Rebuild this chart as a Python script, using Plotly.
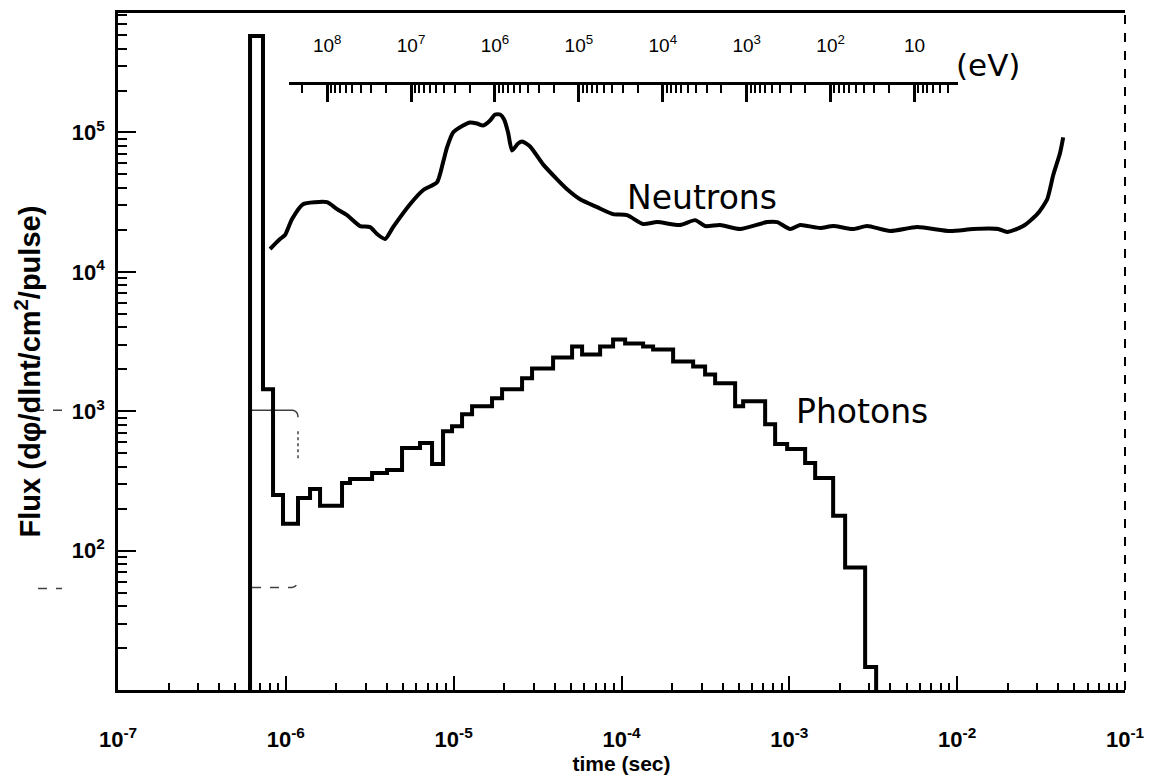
import numpy as np
import plotly.graph_objects as go

# ---------------- data ----------------
# Photon histogram: bin edges (s) and flux per bin
photon_edges = [6.12e-7, 7.31e-7, 8.39e-7, 9.62e-7, 1.182e-6, 1.394e-6, 1.599e-6,
                2.162e-6, 2.413e-6, 3.265e-6, 4.01e-6, 4.925e-6, 6.305e-6, 7.435e-6,
                8.645e-6, 9.78e-6, 1.122e-5, 1.287e-5, 1.693e-5, 1.943e-5, 2.556e-5,
                2.932e-5, 3.912e-5, 5.077e-5, 5.824e-5, 7.457e-5, 8.91e-5, 1.051e-4,
                1.345e-4, 1.543e-4, 2.03e-4, 2.672e-4, 3.148e-4, 3.613e-4, 4.753e-4,
                5.305e-4, 7.175e-4, 8.229e-4, 9.703e-4, 1.242e-3, 1.425e-3, 1.824e-3,
                2.15e-3, 2.829e-3, 3.29e-3]
photon_flux = [4.93e5, 1436, 251, 156, 239, 277, 210, 306, 327, 361, 379, 544, 591,
               418, 720, 782, 952, 1086, 1239, 1436, 1722, 2029, 2432, 2913, 2553,
               2913, 3268, 3060, 2913, 2773, 2276, 2096, 1838, 1585, 1086, 1178, 807,
               581, 535, 425, 332, 178, 75.6, 14.6]
photon_floor = 1.0  # histogram starts/ends at zero (below the axis)

# Neutron curve
neutron_time = [8.05e-7, 9.23e-7, 9.89e-7, 1.089e-6, 1.266e-6, 1.493e-6, 1.760e-6,
                2.018e-6, 2.316e-6, 2.768e-6, 3.176e-6, 3.497e-6, 3.903e-6, 4.355e-6,
                5.497e-6, 6.57e-6, 7.96e-6, 8.645e-6, 9.13e-6, 9.92e-6, 1.138e-5,
                1.252e-5, 1.378e-5, 1.497e-5, 1.648e-5, 1.765e-5, 1.890e-5, 1.998e-5,
                2.110e-5, 2.228e-5, 2.419e-5, 2.556e-5, 2.852e-5, 3.410e-5, 4.132e-5,
                4.741e-5, 5.665e-5, 7.155e-5, 8.91e-5, 1.080e-4, 1.345e-4, 1.630e-4,
                2.235e-4, 2.746e-4, 3.148e-4, 3.870e-4, 5.09e-4, 7.375e-4, 8.46e-4,
                1.011e-3, 1.160e-3, 1.527e-3, 1.824e-3, 2.400e-3, 2.908e-3, 3.988e-3,
                5.775e-3, 9.08e-3, 1.245e-2, 1.755e-2, 1.986e-2, 2.473e-2, 2.998e-2,
                3.439e-2, 3.733e-2, 4.110e-2, 4.283e-2]
neutron_flux = [14590, 17220, 18380, 23920, 30590, 31620, 31620, 28180, 25530, 21320,
                20960, 18680, 17220, 20960, 30590, 38540, 43940, 61050, 78130, 1.0e5,
                1.122e5, 1.179e5, 1.159e5, 1.122e5, 1.219e5, 1.345e5, 1.345e5, 1.239e5,
                1.0e5, 74300, 83380, 86290, 79430, 59060, 46130, 39170, 33200, 29130,
                25940, 25530, 22030, 22760, 21670, 23510, 21320, 21670, 20290, 22760,
                22760, 20290, 21670, 20620, 21320, 20290, 21320, 19630, 20960, 19630,
                20290, 20290, 19310, 21320, 25940, 33200, 49320, 71970, 92100]

# Axes
time_range = [1e-7, 1e-1]
flux_range = [10, 7.2e5]
time_ticks = [1e-7, 1e-6, 1e-5, 1e-4, 1e-3, 1e-2, 1e-1]
time_ticktext = ["10<sup>-7</sup>", "10<sup>-6</sup>", "10<sup>-5</sup>", "10<sup>-4</sup>",
                 "10<sup>-3</sup>", "10<sup>-2</sup>", "10<sup>-1</sup>"]
flux_ticks = [1e2, 1e3, 1e4, 1e5]
flux_ticktext = ["10<sup>2</sup>", "10<sup>3</sup>", "10<sup>4</sup>", "10<sup>5</sup>"]
energy_range_ev = [2.85e8, 3.03]   # neutron energy at the two ends of the top scale
energy_ticks = [1e8, 1e7, 1e6, 1e5, 1e4, 1e3, 1e2, 1e1]
energy_ticktext = ["10<sup>8</sup>", "10<sup>7</sup>", "10<sup>6</sup>", "10<sup>5</sup>",
                   "10<sup>4</sup>", "10<sup>3</sup>", "10<sup>2</sup>", "10"]

# ---------------- figure ----------------
def minor_log(lo_exp, hi_exp):
    return [k * 10.0 ** n for n in range(lo_exp, hi_exp) for k in range(2, 10)]

ph_x = [photon_edges[0]] + list(photon_edges)
ph_y = [photon_floor] + list(photon_flux) + [photon_floor]

fig = go.Figure()
# carrier for the energy scale (drawn first, invisible)
fig.add_trace(go.Scatter(x=energy_range_ev, y=[1e3, 1e3], xaxis="x2", yaxis="y", mode="markers",
                         marker=dict(opacity=0), hoverinfo="skip", showlegend=False))
fig.add_trace(go.Scatter(x=ph_x, y=ph_y, mode="lines", line=dict(color="black", width=4, shape="hv"),
                         hoverinfo="skip", showlegend=False))
fig.add_trace(go.Scatter(x=neutron_time, y=neutron_flux, mode="lines",
                         line=dict(color="black", width=4, shape="spline", smoothing=0.6),
                         hoverinfo="skip", showlegend=False))

font_family = "Liberation Sans, Arial, sans-serif"
bold = dict(family=font_family, size=22, color="black", weight="bold")

L, R, T, B = 118, 45, 10, 90
W, H = 1170, 780
pw, ph = W - L - R, H - T - B
x2_left, x2_right, x2_y = 289, 958, 80


def px(x):
    return (x - L) / pw


def py(y):
    return (H - B - y) / ph


fig.update_layout(
    width=W, height=H, margin=dict(l=L, r=R, t=T, b=B),
    paper_bgcolor="white", plot_bgcolor="rgba(0,0,0,0)",
    xaxis=dict(type="log", range=[np.log10(time_range[0]), np.log10(time_range[1])],
               tickvals=time_ticks, ticktext=time_ticktext, tickfont=bold,
               ticks="inside", ticklen=14, tickwidth=2, tickcolor="black",
               minor=dict(tickvals=minor_log(-7, -1), ticks="inside", ticklen=7, tickwidth=1.5,
                          tickcolor="black"),
               showline=True, linecolor="black", linewidth=3, mirror=True,
               showgrid=False, zeroline=False, ticklabelstandoff=28,
               title=dict(text="time (sec)", font=dict(family=font_family, size=21, color="black",
                                                       weight="bold"), standoff=0)),
    yaxis=dict(type="log", range=[np.log10(flux_range[0]), np.log10(flux_range[1])],
               tickvals=flux_ticks, ticktext=flux_ticktext, tickfont=bold,
               ticks="inside", ticklen=18, tickwidth=2, tickcolor="black",
               minor=dict(tickvals=minor_log(1, 6), ticks="inside", ticklen=9, tickwidth=1.5,
                          tickcolor="black"),
               showline=True, linecolor="black", linewidth=2.5,
               showgrid=False, zeroline=False, ticklabelstandoff=6),
    xaxis2=dict(type="log", range=[np.log10(energy_range_ev[0]), np.log10(energy_range_ev[1])],
                domain=[px(x2_left), px(x2_right)],
                anchor="free", position=py(x2_y), side="top",
                tickvals=energy_ticks, ticktext=energy_ticktext,
                tickfont=dict(family=font_family, size=19, color="black"),
                ticks="inside", ticklen=17, tickwidth=2.5, tickcolor="black",
                minor=dict(tickvals=minor_log(0, 9), ticks="inside", ticklen=8, tickwidth=2,
                           tickcolor="black"),
                showline=True, linecolor="black", linewidth=3,
                showgrid=False, zeroline=False, ticklabelstandoff=22),
    font=dict(family=font_family, color="black"),
)

# y-axis title (placed as rotated text, as in the original)
fig.add_annotation(x=px(28), y=py(370), xref="paper", yref="paper",
                   text="Flux (dφ/dlnt/cm<sup>2</sup>/pulse)", textangle=-90, showarrow=False,
                   font=dict(family=font_family, size=29, color="black", weight="bold"),
                   xanchor="center", yanchor="middle")

# dashed right-hand frame line
fig.add_shape(type="line", xref="paper", yref="paper", x0=1, x1=1, y0=0, y1=1,
              line=dict(color="black", width=2, dash="dash"))

# faint scan marks of the original figure
scan = dict(color="rgba(0,0,0,0.75)", width=1.5)
fig.add_shape(type="path", xref="paper", yref="paper", line=scan,
              path=f"M {px(252)},{py(409)} L {px(293)},{py(409)} Q {px(298)},{py(410)} {px(298)},{py(416)}")
fig.add_shape(type="path", xref="paper", yref="paper", line=dict(scan, dash="dash"),
              path=f"M {px(252)},{py(587)} L {px(292)},{py(587)} Q {px(297)},{py(586)} {px(297)},{py(582)}")
fig.add_shape(type="line", xref="paper", yref="paper", line=dict(scan, dash="dot"),
              x0=px(298), x1=px(298), y0=py(430), y1=py(460))
fig.add_shape(type="line", xref="paper", yref="paper", line=dict(scan, dash="dash"),
              x0=px(35), x1=px(66), y0=py(409), y1=py(409))
fig.add_shape(type="line", xref="paper", yref="paper", line=dict(scan, dash="dash"),
              x0=px(38), x1=px(62), y0=py(588), y1=py(588))

lab = dict(family="DejaVu Sans, sans-serif", size=33, color="black")
fig.add_annotation(x=np.log10(3.0e-4), y=np.log10(34400), text="Neutrons", showarrow=False,
                   font=lab, xanchor="center", yanchor="middle")
fig.add_annotation(x=np.log10(2.7e-3), y=np.log10(1000), text="Photons", showarrow=False,
                   font=lab, xanchor="center", yanchor="middle")
fig.add_annotation(x=px(988), y=py(62), xref="paper", yref="paper",
                   text="(eV)", showarrow=False, font=dict(lab, size=31),
                   xanchor="center", yanchor="middle")

fig.write_html("out.html", config={"displayModeBar": False},
               post_script="document.body.style.margin='0';")
